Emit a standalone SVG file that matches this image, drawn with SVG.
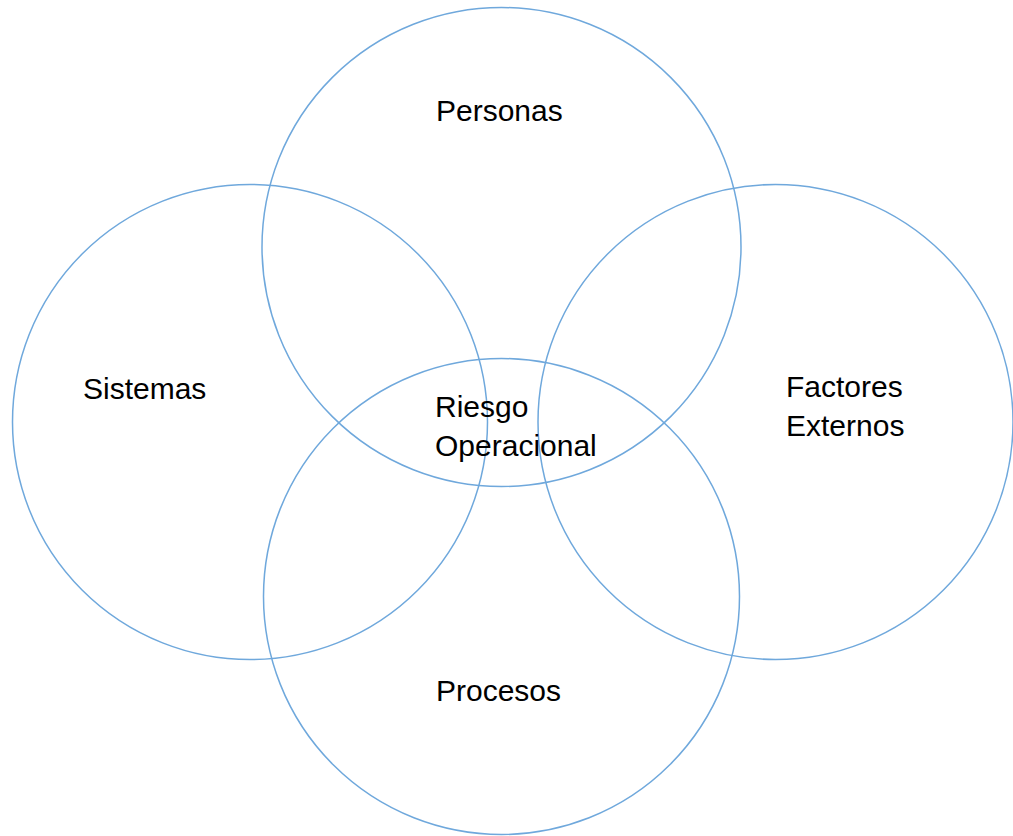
<svg xmlns="http://www.w3.org/2000/svg" width="1013" height="836" viewBox="0 0 1013 836">
<style>
.c{fill:none;stroke:#6fa8dc;stroke-width:1.5}
.t{font-family:"Liberation Sans",Arial,sans-serif;font-size:30px;fill:#000}
</style>
<rect width="1013" height="836" fill="#fff"/>
<g id="personas"><circle class="c" cx="501.5" cy="247" r="239.5"/><text class="t" x="436" y="121">Personas</text></g>
<g id="sistemas"><circle class="c" cx="250" cy="422" r="237.5"/><text class="t" x="83" y="399">Sistemas</text></g>
<g id="factores"><circle class="c" cx="775.5" cy="422" r="237.5"/><text class="t" x="786" y="397">Factores</text><text class="t" x="786" y="436">Externos</text></g>
<g id="procesos"><circle class="c" cx="501.5" cy="596.5" r="238"/><text class="t" x="436" y="701">Procesos</text></g>
<g id="riesgo"><text class="t" x="435" y="417">Riesgo</text><text class="t" x="435" y="456">Operacional</text></g>
<g id="connectors"/>
</svg>
